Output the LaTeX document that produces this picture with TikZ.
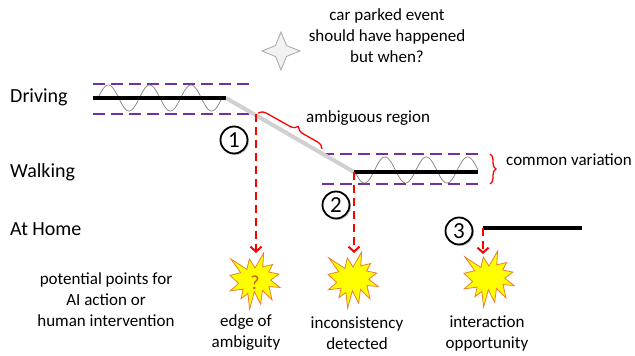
\documentclass[tikz,border=0pt]{standalone}
\usepackage{fontspec}
\setmainfont{Carlito}
\usetikzlibrary{arrows.meta,decorations.pathreplacing,shadows}
\definecolor{purp}{HTML}{7030A0}
\definecolor{burstfill}{HTML}{FFFF00}
\definecolor{burstline}{HTML}{ED7D31}
\definecolor{qmark}{HTML}{C55A11}
\definecolor{ambig}{HTML}{D0D0D0}
\definecolor{starfill}{HTML}{F2F2F2}
\definecolor{starline}{HTML}{A6A6A6}
\begin{document}
\begin{tikzpicture}[x=1pt,y=-1pt,
  rowlabel/.style={font=\fontsize{20}{24}\selectfont, anchor=west, inner sep=0pt},
  note/.style={font=\fontsize{17}{21}\selectfont, align=center, inner sep=0pt},
  state/.style={line width=4pt, black},
  band/.style={purp, line width=2.3pt, dash pattern=on 12pt off 6pt},
  wave/.style={gray, line width=0.7pt},
  trigger/.style={red, line width=2.3pt, dash pattern=on 8pt off 5pt, -{Straight Barb[length=5pt,width=11pt,line width=2pt]}},
  numcirc/.style={circle, draw=black, fill=white, line width=1.8pt, minimum size=27pt, inner sep=0pt, font=\fontsize{23}{26}\selectfont, drop shadow={shadow xshift=1.5pt,shadow yshift=-1.5pt,opacity=0.35}},
  redbrace/.style={red, line width=1.3pt, decorate},
  pics/burst/.style={code={
    \draw[fill=burstfill, draw=burstline, line width=0.8pt]
      (0,-12.96) -- (8.62,-28) -- (7.77,-14.19) -- (17.55,-16.44) -- (13.66,-9.04)
      -- (23.84,-6.90) -- (15.76,-0.84) -- (25,6.46) -- (13.98,5.55) -- (17.00,18.91)
      -- (7.45,9.48) -- (5.66,23.17) -- (-0.62,10.72) -- (-5.36,28) -- (-7.14,12.51)
      -- (-13.98,17.67) -- (-11.88,8.13) -- (-24.69,9.82) -- (-16.38,2.53) -- (-25,-5.66)
      -- (-14.29,-8.25) -- (-24.14,-22.05) -- (-8.07,-11.61) -- (-5.67,-22.05) -- cycle;
  }}
]
\useasboundingbox (0,0) rectangle (635,356);

% title and star
\draw[fill=starfill, draw=starline, line width=0.8pt]
  (281,32) -- (286.5,45.5) -- (300,51) -- (286.5,56.5) -- (281,70) -- (275.5,56.5) -- (262,51) -- (275.5,45.5) -- cycle;
\node[note] (title) at (387,36) {car parked event\\should have happened\\but when?};

% row labels
\node[rowlabel] (lDriving) at (10,97) {Driving};
\node[rowlabel] (lWalking) at (10,172) {Walking};
\node[rowlabel] (lHome) at (10,229) {At Home};

% key coordinates
\coordinate (dL) at (93,98);
\coordinate (dR) at (226,98);
\coordinate (wL) at (354,172);
\coordinate (wR) at (478,172);
\coordinate (hL) at (483,228);
\coordinate (hR) at (582,228);

% variation bands
\draw[band] (93,84) -- (253,84);
\draw[band] (93,114) -- (255,114);
\draw[band] (322,154) -- (483,154);
\draw[band] (322,184) -- (483,184);

% waves
\draw[wave] plot[domain=0:1080, samples=150, smooth] ({98+\x/360*41.33}, {98-13*sin(\x)});
\draw[wave] plot[domain=0:1080, samples=150, smooth] ({354+\x/360*41.33}, {170+13*sin(\x)});

% transition
\draw[ambig, line width=4pt] (dR) -- (wL);

% states
\draw[state] (dL) -- (dR);
\draw[state] (wL) -- (wR);
\draw[state] (hL) -- (hR);

% braces
\coordinate (brA) at (258,113);
\coordinate (brB) at (322,149);
\draw[redbrace, decoration={brace, amplitude=8pt, aspect=0.57}] (brA) -- (brB);
\node[note, anchor=west] (ambl) at (306,118) {ambiguous region};
\coordinate (brC) at (490,154);
\coordinate (brD) at (490,184);
\draw[redbrace, decoration={brace, amplitude=6pt}] (brC) -- (brD);
\node[note, anchor=west] (cvl) at (506,160) {common variation};

% bursts
\pic at (255,281) {burst};
\pic at (353,280) {burst};
\pic at (489,279) {burst};
\node[font=\fontsize{20}{24}\selectfont, text=qmark, inner sep=0pt] (q) at (255,283) {?};

% triggers
\coordinate (t1s) at (256,114);
\coordinate (t1e) at (256,253);
\coordinate (t2e) at (354,253);
\coordinate (t3e) at (483,254);
\draw[trigger] (t1s) -- (t1e);
\draw[trigger] (wL) -- (t2e);
\draw[trigger] (hL) -- (t3e);

% numbered circles
\node[numcirc] (c1) at (234,140) {1};
\node[numcirc] (c2) at (336,205) {2};
\node[numcirc] (c3) at (459,231) {3};

% bottom labels
\node[note] (pot) at (106,300) {potential points for\\AI action or\\human intervention};
\node[note] (e1l) at (246,333) {edge of\\ambiguity};
\node[note] (e2l) at (357,333) {inconsistency\\detected};
\node[note] (e3l) at (487,333) {interaction\\opportunity};
\end{tikzpicture}
\end{document}
